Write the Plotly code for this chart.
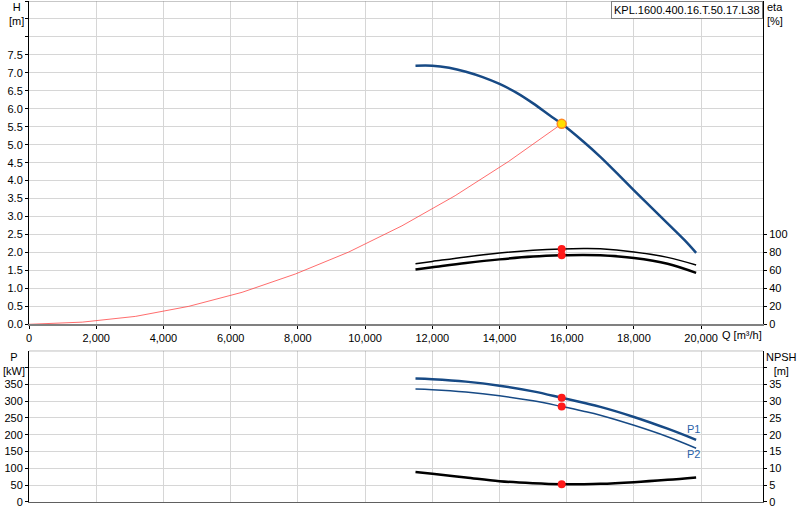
import plotly.graph_objs as go

# pump curve H(Q)
q_h = [11500, 12000, 12500, 13000, 13500, 14000, 14500, 15000, 15500, 15850,
       16500, 17000, 17500, 18000, 18500, 19000, 19500, 19850]
h = [7.20, 7.20, 7.14, 7.03, 6.88, 6.69, 6.45, 6.15, 5.81, 5.58,
     5.08, 4.66, 4.20, 3.73, 3.27, 2.81, 2.35, 1.99]

# system curve
q_sys = [0, 1585, 3170, 4755, 6340, 7925, 9510, 11095, 12680, 14265, 15850]
h_sys = [0.0, 0.06, 0.22, 0.50, 0.89, 1.40, 2.01, 2.74, 3.58, 4.53, 5.58]

# efficiency, power, npsh
q = [11500, 12000, 13000, 14000, 15000, 15850, 16500, 17000, 18000, 19000, 19850]
eta1 = [67.5, 70.0, 75.0, 79.3, 82.4, 83.9, 84.3, 84.0, 80.5, 74.5, 66.0]
eta2 = [61.0, 63.4, 68.2, 72.3, 75.4, 76.8, 77.2, 76.8, 73.8, 67.5, 57.3]
p1 = [367, 365, 358, 346, 329, 310, 295, 283, 253, 218, 185]
p2 = [336, 334, 327, 316, 301, 284, 270, 258, 228, 194, 160]
npsh = [8.9, 8.4, 7.3, 6.2, 5.6, 5.3, 5.3, 5.4, 5.9, 6.6, 7.3]

# duty point
q_op = 15850
h_op = 5.58
eta1_op = 83.9
eta2_op = 76.8
p1_op = 310
p2_op = 284
npsh_op = 5.3

q_ticks = list(range(0, 20001, 2000))
q_labels = ['{:,}'.format(v) for v in q_ticks]
h_ticks = [i * 0.5 for i in range(19)]
h_labels = ['{:.1f}'.format(v) if v <= 7.5 else '' for v in h_ticks]
eta_ticks = [0, 20, 40, 60, 80, 100]
p_ticks = list(range(0, 401, 50))
p_labels = [str(v) if v <= 350 else '' for v in p_ticks]
npsh_ticks = list(range(0, 41, 5))
npsh_labels = [str(v) if v <= 35 else '' for v in npsh_ticks]

title = 'KPL.1600.400.16.T.50.17.L38'

blue = '#174a85'
grid = '#d6d6d6'
font = {'family': 'Liberation Sans, Arial, sans-serif', 'size': 11, 'color': 'black'}

q_max = 21840


def y_axis(**extra):
    axis = {
        'tickmode': 'array',
        'ticks': 'outside',
        'ticklen': 3,
        'tickcolor': 'black',
        'showline': True,
        'linecolor': 'black',
        'zeroline': False,
        'automargin': False,
    }
    axis.update(extra)
    return axis


layout = {
    'width': 800,
    'height': 520,
    'margin': {'l': 29, 'r': 37, 't': 1, 'b': 18},
    'paper_bgcolor': 'white',
    'plot_bgcolor': 'white',
    'showlegend': False,
    'hovermode': False,
    'font': font,
    'xaxis': {
        'domain': [0, 1],
        'anchor': 'y',
        'range': [0, q_max],
        'tickmode': 'array',
        'tickvals': q_ticks,
        'ticktext': q_labels,
        'ticks': 'outside',
        'ticklen': 3,
        'tickcolor': 'black',
        'showgrid': True,
        'gridcolor': grid,
        'showline': True,
        'linecolor': '#808080',
        'linewidth': 2,
        'zeroline': False,
        'automargin': False,
    },
    'yaxis': y_axis(
        domain = [0.3547, 1],
        anchor = 'x',
        range = [0, 9],
        tickvals = h_ticks,
        ticktext = h_labels,
        showgrid = True,
        gridcolor = grid,
    ),
    'yaxis2': y_axis(
        overlaying = 'y',
        anchor = 'x',
        side = 'right',
        range = [0, 360],
        tickvals = eta_ticks,
        showgrid = False,
    ),
    'xaxis2': {
        'domain': [0, 1],
        'anchor': 'y3',
        'range': [0, q_max],
        'tickmode': 'array',
        'tickvals': q_ticks,
        'showticklabels': False,
        'showgrid': True,
        'gridcolor': grid,
        'showline': True,
        'linecolor': '#606060',
        'linewidth': 1,
        'zeroline': False,
        'automargin': False,
    },
    'yaxis3': y_axis(
        domain = [0, 0.302],
        anchor = 'x2',
        range = [0, 450],
        tickvals = p_ticks,
        ticktext = p_labels,
        showgrid = True,
        gridcolor = grid,
    ),
    'yaxis4': y_axis(
        overlaying = 'y3',
        anchor = 'x2',
        side = 'right',
        range = [0, 45],
        tickvals = npsh_ticks,
        ticktext = npsh_labels,
        showgrid = False,
    ),
    'shapes': [
        # top frame lines
        {'type': 'line', 'xref': 'x', 'yref': 'y', 'x0': 0, 'x1': q_max, 'y0': 9, 'y1': 9,
         'line': {'color': '#909090', 'width': 1}},
        {'type': 'line', 'xref': 'x2', 'yref': 'y3', 'x0': 0, 'x1': q_max, 'y0': 450, 'y1': 450,
         'line': {'color': '#606060', 'width': 1}},
    ],
    'annotations': [
        {'text': 'H<br>[m]', 'xref': 'paper', 'yref': 'paper', 'x': 0, 'y': 1.0,
         'xanchor': 'center', 'yanchor': 'top', 'xshift': -13, 'yshift': 2,
         'showarrow': False, 'align': 'center'},
        {'text': 'eta<br>[%]', 'xref': 'paper', 'yref': 'paper', 'x': 1, 'y': 1.0,
         'xanchor': 'left', 'yanchor': 'top', 'xshift': 2, 'yshift': 2,
         'showarrow': False, 'align': 'left'},
        {'text': 'P<br>[kW]', 'xref': 'paper', 'yref': 'paper', 'x': 0, 'y': 0.302,
         'xanchor': 'center', 'yanchor': 'top', 'xshift': -15, 'yshift': 2,
         'showarrow': False, 'align': 'center'},
        {'text': 'NPSH<br>[m]', 'xref': 'paper', 'yref': 'paper', 'x': 1, 'y': 0.302,
         'xanchor': 'left', 'yanchor': 'top', 'xshift': 1, 'yshift': 2,
         'showarrow': False, 'align': 'center'},
        {'text': 'Q [m³/h]', 'xref': 'x', 'yref': 'paper', 'x': 20000, 'y': 0.3547,
         'xanchor': 'left', 'yanchor': 'top', 'xshift': 19, 'yshift': -3,
         'showarrow': False},
        {'text': 'P1', 'xref': 'x2', 'yref': 'y4', 'x': q[-1], 'y': 21.6,
         'xanchor': 'center', 'showarrow': False, 'xshift': -3,
         'font': {'color': '#2a62a8', 'size': 11}},
        {'text': 'P2', 'xref': 'x2', 'yref': 'y4', 'x': q[-1], 'y': 14.4,
         'xanchor': 'center', 'showarrow': False, 'xshift': -3,
         'font': {'color': '#2a62a8', 'size': 11}},
        {'text': title, 'xref': 'paper', 'yref': 'paper', 'x': 1, 'y': 1,
         'xanchor': 'right', 'yanchor': 'top', 'showarrow': False,
         'bgcolor': 'white', 'bordercolor': '#808080', 'borderwidth': 1, 'borderpad': 2},
    ],
}

system = go.Scatter(
    x = q_sys,
    y = h_sys,
    mode = 'lines',
    line = {'color': 'rgba(255, 60, 60, 0.75)', 'width': 1},
    xaxis = 'x',
    yaxis = 'y',
)

pump = go.Scatter(
    x = q_h,
    y = h,
    mode = 'lines',
    line = {'color': blue, 'width': 2.5, 'shape': 'spline'},
    xaxis = 'x',
    yaxis = 'y',
)

duty = go.Scatter(
    x = [q_op],
    y = [h_op],
    mode = 'markers',
    marker = {'size': 9, 'color': '#ffe000', 'line': {'color': '#ff8a20', 'width': 1.5}},
    xaxis = 'x',
    yaxis = 'y',
)

eta_top = go.Scatter(
    x = q,
    y = eta1,
    mode = 'lines',
    line = {'color': 'black', 'width': 1.5, 'shape': 'spline'},
    xaxis = 'x',
    yaxis = 'y2',
)

eta_low = go.Scatter(
    x = q,
    y = eta2,
    mode = 'lines',
    line = {'color': 'black', 'width': 2.5, 'shape': 'spline'},
    xaxis = 'x',
    yaxis = 'y2',
)

eta_points = go.Scatter(
    x = [q_op, q_op],
    y = [eta1_op, eta2_op],
    mode = 'markers',
    marker = {'size': 8, 'color': '#ff1a1a'},
    xaxis = 'x',
    yaxis = 'y2',
)

power1 = go.Scatter(
    x = q,
    y = p1,
    mode = 'lines',
    line = {'color': blue, 'width': 2.5, 'shape': 'spline'},
    xaxis = 'x2',
    yaxis = 'y3',
)

power2 = go.Scatter(
    x = q,
    y = p2,
    mode = 'lines',
    line = {'color': blue, 'width': 1.5, 'shape': 'spline'},
    xaxis = 'x2',
    yaxis = 'y3',
)

power_points = go.Scatter(
    x = [q_op, q_op],
    y = [p1_op, p2_op],
    mode = 'markers',
    marker = {'size': 8, 'color': '#ff1a1a'},
    xaxis = 'x2',
    yaxis = 'y3',
)

npsh_line = go.Scatter(
    x = q,
    y = npsh,
    mode = 'lines',
    line = {'color': 'black', 'width': 2.5, 'shape': 'spline'},
    xaxis = 'x2',
    yaxis = 'y4',
)

npsh_point = go.Scatter(
    x = [q_op],
    y = [npsh_op],
    mode = 'markers',
    marker = {'size': 8, 'color': '#ff1a1a'},
    xaxis = 'x2',
    yaxis = 'y4',
)

data = [system, pump, eta_top, eta_low, eta_points, duty,
        power1, power2, power_points, npsh_line, npsh_point]

fig = go.Figure(data = data, layout = layout)
# the page has an 8px body margin by default; drop it so the figure sits at the corner
fig.write_html(
    'out.html',
    config = {'displayModeBar': False, 'staticPlot': True},
    post_script = "document.body.style.margin = '0';",
)
